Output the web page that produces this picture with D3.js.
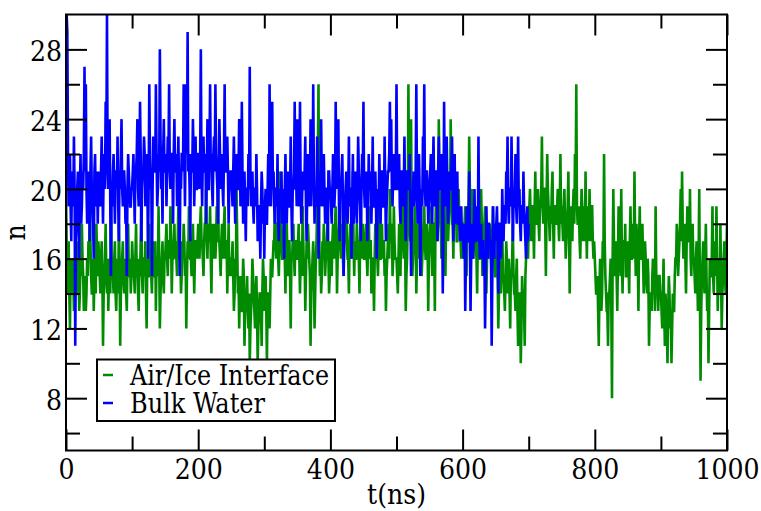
<!DOCTYPE html>
<html>
<head>
<meta charset="utf-8">
<script src="https://cdn.jsdelivr.net/npm/d3@7/dist/d3.min.js"></script>
</head>
<body style="margin:0;padding:0;background:#fff;">
<svg id="chart" width="761" height="511"></svg>
<script>
// Number of molecules n versus simulation time, one sample per ns
const timeStep = 1;

const airIce = [
  20,17,14,15,17,14,12,16,15,14,16,15,13,14,15,16,17,15,14,16,13,14,16,15,18,16,15,13,14,15,13,14,16,15,17,16,20,17,15,14,14,16,13,15,16,14,18,16,15,17,
  16,15,14,16,17,15,11,14,15,16,18,15,14,16,13,15,16,14,19,16,15,15,14,16,17,14,13,15,16,14,18,16,11,14,15,16,17,15,14,15,16,14,13,16,18,15,15,16,14,15,
  17,16,15,15,14,16,18,15,16,14,13,16,15,17,19,15,14,16,16,15,17,14,12,16,15,15,18,16,16,15,14,16,17,15,15,17,13,16,16,15,19,16,12,14,15,16,17,15,14,16,
  16,17,18,16,15,17,17,16,19,17,14,16,16,17,18,16,17,16,15,17,19,17,16,16,14,15,17,16,18,17,15,16,12,15,17,16,19,17,16,16,15,17,18,16,14,16,17,17,16,17,
  18,17,16,18,19,17,17,16,15,17,18,18,20,17,16,18,17,17,19,16,14,17,18,16,17,18,16,17,19,18,20,17,17,16,15,17,18,17,16,18,19,16,17,17,14,16,18,15,16,16,
  15,16,17,15,13,14,16,15,20,17,14,15,12,14,15,13,13,14,16,15,11,13,14,14,15,13,12,14,10,12,13,14,16,15,14,13,12,14,15,13,10,12,13,14,14,13,11,14,16,15,
  13,14,15,13,10,14,14,13,12,14,16,15,15,16,17,17,19,17,16,18,18,16,15,17,21,18,17,16,16,17,19,16,14,17,18,16,15,17,17,15,12,16,16,17,18,16,15,17,17,16,
  16,17,18,16,14,16,17,15,19,17,15,16,13,15,17,16,18,17,16,15,11,14,15,16,17,15,12,14,16,17,19,22,26,18,15,16,14,15,17,16,18,17,15,16,16,17,19,16,14,15,
  17,16,15,17,18,17,16,18,19,17,14,16,17,18,20,17,16,17,18,16,15,17,17,18,19,17,16,16,14,17,18,16,17,18,21,17,15,17,16,16,18,17,17,16,14,17,19,17,16,18,
  17,16,16,17,18,16,15,17,19,16,17,17,14,16,16,15,13,16,18,17,17,16,15,17,19,16,16,17,18,16,17,17,15,16,13,15,16,17,18,16,20,17,17,18,15,16,19,17,16,16,
  16,15,14,16,18,17,15,18,21,17,17,16,19,17,13,15,16,18,26,20,18,17,24,18,15,16,17,18,19,17,14,16,18,17,16,18,20,17,15,16,17,18,19,17,16,16,18,17,13,16,
  17,18,19,17,15,18,18,17,13,18,20,19,17,18,24,20,19,18,16,19,21,18,18,17,15,18,20,19,17,18,19,19,24,20,18,18,16,19,21,18,19,17,17,19,20,18,18,17,16,18,
  18,17,16,18,19,17,15,18,17,19,23,20,18,17,20,18,16,17,19,18,17,16,14,17,18,16,16,17,20,18,15,16,17,18,19,17,14,16,18,17,16,18,17,16,15,17,19,16,16,15,
  15,16,17,15,12,14,16,15,14,16,18,15,15,14,13,15,17,16,14,15,16,14,12,15,15,16,18,15,14,14,13,15,16,13,11,14,14,13,10,12,15,14,13,13,11,15,16,17,17,16,
  18,19,20,18,17,19,19,18,16,19,21,18,18,19,20,18,17,19,19,20,23,19,18,20,20,18,15,19,22,20,19,18,17,19,18,20,21,18,16,19,19,18,18,19,20,18,17,19,22,18,
  19,18,17,19,20,18,16,17,18,19,21,18,14,17,19,18,17,19,20,18,22,20,26,19,18,18,19,17,16,18,20,19,17,18,19,17,21,18,16,19,18,17,20,18,17,19,19,17,16,17,
  16,15,14,14,15,13,11,14,16,15,13,14,17,16,22,17,15,14,13,13,11,14,14,15,16,13,8,16,20,17,15,16,17,15,13,16,19,17,16,15,20,16,14,17,17,16,18,15,15,16,
  17,16,14,17,19,16,16,17,18,16,21,17,15,18,17,16,13,17,19,16,16,17,18,16,14,15,17,16,15,14,16,15,11,13,14,14,13,15,16,14,15,13,19,15,14,14,13,15,15,14,
  14,13,12,14,16,13,11,14,13,12,10,13,15,14,12,13,10,12,14,13,13,15,16,16,18,17,15,16,17,18,20,17,21,18,16,17,18,16,14,17,19,18,17,17,20,16,15,17,18,16,
  16,15,14,16,17,15,13,16,20,14,9,13,15,16,17,15,14,16,18,15,13,14,10,13,16,15,15,16,19,15,14,16,17,15,19,16,13,15,16,14,18,15,12,14,15,16,17,15,14,16,
  18
];

const bulkWater = [
  30,30,29,22,19,20,22,19,17,21,20,19,23,20,11,17,18,20,21,19,16,20,22,18,19,21,20,22,27,21,26,20,18,19,21,20,17,21,23,20,19,18,16,21,22,19,20,21,18,20,
  21,20,19,21,23,20,18,21,22,20,25,22,30,21,20,22,24,19,15,20,19,21,22,20,18,21,21,20,23,19,17,21,20,22,24,20,19,21,21,20,18,19,15,20,22,21,20,19,19,20,
  20,21,22,20,18,21,21,22,24,20,19,21,25,22,17,20,21,21,23,22,19,20,22,21,16,20,26,22,20,21,15,20,23,22,21,21,26,22,19,20,22,21,28,23,20,21,18,22,24,21,
  21,22,19,21,23,22,26,21,20,22,22,21,18,22,24,21,21,22,19,21,23,20,15,21,20,22,22,21,26,22,19,23,26,22,29,21,22,20,17,22,21,21,24,22,19,21,23,20,20,22,
  22,21,20,22,28,21,19,22,23,21,21,22,18,21,24,20,20,22,26,21,22,20,19,22,23,21,26,22,21,20,18,21,24,22,20,21,22,20,19,22,26,21,21,22,23,21,18,20,20,21,
  21,20,19,21,23,20,18,21,22,20,20,21,24,22,19,20,25,21,18,20,21,19,17,20,20,19,22,20,27,21,19,20,21,19,18,20,20,19,22,20,17,19,19,18,16,19,21,20,18,19,
  16,19,20,18,18,20,22,19,26,20,19,21,25,20,21,19,18,20,20,19,22,18,17,20,19,19,21,18,20,19,16,20,22,19,18,20,21,19,19,20,23,19,17,20,20,21,25,20,21,19,
  24,20,19,21,25,20,18,19,21,20,20,21,23,19,17,20,22,21,19,20,24,19,21,20,26,21,18,20,20,19,23,21,16,20,21,19,24,20,19,21,22,20,18,19,20,20,17,21,21,20,
  20,19,18,20,22,19,19,20,25,21,21,20,24,19,17,20,20,21,22,19,15,18,19,20,21,19,18,20,23,19,20,20,16,19,22,18,19,20,21,19,18,20,23,21,20,19,17,20,22,21,
  25,20,19,19,21,20,17,19,22,20,20,21,18,20,23,19,19,20,21,19,16,18,20,19,22,20,18,21,21,20,19,19,23,20,17,19,20,21,21,22,25,21,24,20,19,21,22,20,20,21,
  26,21,20,20,22,19,18,20,21,21,19,20,23,19,17,20,21,21,20,20,22,19,15,18,19,20,21,19,20,21,26,20,18,19,22,20,15,18,20,19,23,21,26,20,19,21,21,20,18,19,
  20,21,22,20,18,21,23,20,19,21,21,20,17,21,23,20,20,21,22,19,14,18,25,20,19,21,23,20,18,19,21,20,20,21,23,20,17,19,22,18,19,19,21,18,18,19,17,18,19,17,
  18,17,16,18,13,16,19,17,17,18,21,17,13,16,18,17,16,18,20,17,17,18,19,17,23,18,16,17,18,16,17,17,15,16,12,15,19,17,16,18,18,17,17,16,11,15,19,17,16,18,
  17,18,19,17,14,16,18,18,16,17,20,18,17,19,19,18,21,20,23,19,18,20,20,19,23,20,17,19,19,20,22,19,18,20,23,19,20,18,17,19,19,18,21,19,18,17,16,18,19,17,
  18
];

const seriesNames = ["Air/Ice Interface", "Bulk Water"];
const seriesColors = ["#008b00", "#0000ff"];

const xMajorTicks = [0, 200, 400, 600, 800, 1000];
const xMinorTicks = [100, 300, 500, 700, 900];
const yMajorTicks = [8, 12, 16, 20, 24, 28];
const yMinorTicks = [6, 10, 14, 18, 22, 26];

const xLabel = "t(ns)";
const yLabel = "n";

const FONT = "DejaVu Serif Condensed, DejaVu Serif, serif";
const FS = 28;
const svg = d3.select("#chart");
const plotLeft = 66, plotRight = 727, plotTop = 14.5, plotBottom = 450.5;

const x = d3.scaleLinear().domain([0, 1000]).range([plotLeft, plotRight]);
const y = d3.scaleLinear().domain([5, 30]).range([plotBottom, plotTop]);

svg.append("defs").append("clipPath").attr("id", "plotClip")
  .append("rect")
  .attr("x", plotLeft).attr("y", plotTop)
  .attr("width", plotRight - plotLeft).attr("height", plotBottom - plotTop);

const line = d3.line()
  .x((d, i) => x(i * timeStep))
  .y(d => y(d));

const plot = svg.append("g").attr("clip-path", "url(#plotClip)");
[airIce, bulkWater].forEach((series, k) => {
  plot.append("path")
    .datum(series)
    .attr("fill", "none")
    .attr("stroke", seriesColors[k])
    .attr("stroke-width", 2.6)
    .attr("d", line);
});

// Inward ticks on all four sides
function styleAxis(g) {
  g.attr("font-family", FONT).attr("font-size", FS);
  g.select(".domain").remove();
  g.selectAll(".tick line").attr("stroke", "#000").attr("stroke-width", 2);
  g.selectAll("text").attr("fill", "#000");
}

const MAJ = 21, MIN = 14;

svg.append("g").attr("transform", `translate(0,${plotBottom})`)
  .call(d3.axisBottom(x).tickValues(xMajorTicks).tickSize(-MAJ).tickPadding(9)
    .tickFormat(d3.format("d")))
  .call(styleAxis);
svg.append("g").attr("transform", `translate(0,${plotBottom})`)
  .call(d3.axisBottom(x).tickValues(xMinorTicks).tickSize(-MIN).tickFormat(""))
  .call(styleAxis);
svg.append("g").attr("transform", `translate(0,${plotTop})`)
  .call(d3.axisTop(x).tickValues(xMajorTicks).tickSize(-MAJ).tickFormat(""))
  .call(styleAxis);
svg.append("g").attr("transform", `translate(0,${plotTop})`)
  .call(d3.axisTop(x).tickValues(xMinorTicks).tickSize(-MIN).tickFormat(""))
  .call(styleAxis);

svg.append("g").attr("transform", `translate(${plotLeft},0)`)
  .call(d3.axisLeft(y).tickValues(yMajorTicks).tickSize(-MAJ).tickPadding(4)
    .tickFormat(d3.format("d")))
  .call(styleAxis)
  .call(g => g.selectAll("text").attr("dy", "0.4em"));
svg.append("g").attr("transform", `translate(${plotLeft},0)`)
  .call(d3.axisLeft(y).tickValues(yMinorTicks).tickSize(-MIN).tickFormat(""))
  .call(styleAxis);
svg.append("g").attr("transform", `translate(${plotRight},0)`)
  .call(d3.axisRight(y).tickValues(yMajorTicks).tickSize(-MAJ).tickFormat(""))
  .call(styleAxis);
svg.append("g").attr("transform", `translate(${plotRight},0)`)
  .call(d3.axisRight(y).tickValues(yMinorTicks).tickSize(-MIN).tickFormat(""))
  .call(styleAxis);

// Frame
svg.append("rect")
  .attr("x", plotLeft).attr("y", plotTop)
  .attr("width", plotRight - plotLeft).attr("height", plotBottom - plotTop)
  .attr("fill", "none").attr("stroke", "#000").attr("stroke-width", 2);

// Axis titles
svg.append("text")
  .attr("x", (plotLeft + plotRight) / 2).attr("y", 503.5)
  .attr("text-anchor", "middle")
  .attr("font-family", FONT).attr("font-size", FS)
  .text(xLabel);

svg.append("text")
  .attr("transform", `translate(25,${(plotTop + plotBottom) / 2}) rotate(-90)`)
  .attr("text-anchor", "middle")
  .attr("font-family", FONT).attr("font-size", FS)
  .text(yLabel);

// Legend
const legend = svg.append("g");
legend.append("rect")
  .attr("x", 97).attr("y", 359.5)
  .attr("width", 238).attr("height", 61.5)
  .attr("fill", "#fff").attr("stroke", "#000").attr("stroke-width", 2);

const legendTextWidths = [199, 135];
seriesNames.forEach((name, k) => {
  const cy = 375 + k * 28;
  legend.append("line")
    .attr("x1", 103).attr("x2", 113)
    .attr("y1", cy).attr("y2", cy)
    .attr("stroke", seriesColors[k]).attr("stroke-width", 2.5);
  legend.append("text")
    .attr("x", 130).attr("y", cy + 10)
    .attr("font-family", FONT).attr("font-size", 27)
    .attr("textLength", legendTextWidths[k])
    .attr("lengthAdjust", "spacingAndGlyphs")
    .text(name);
});
</script>
</body>
</html>
